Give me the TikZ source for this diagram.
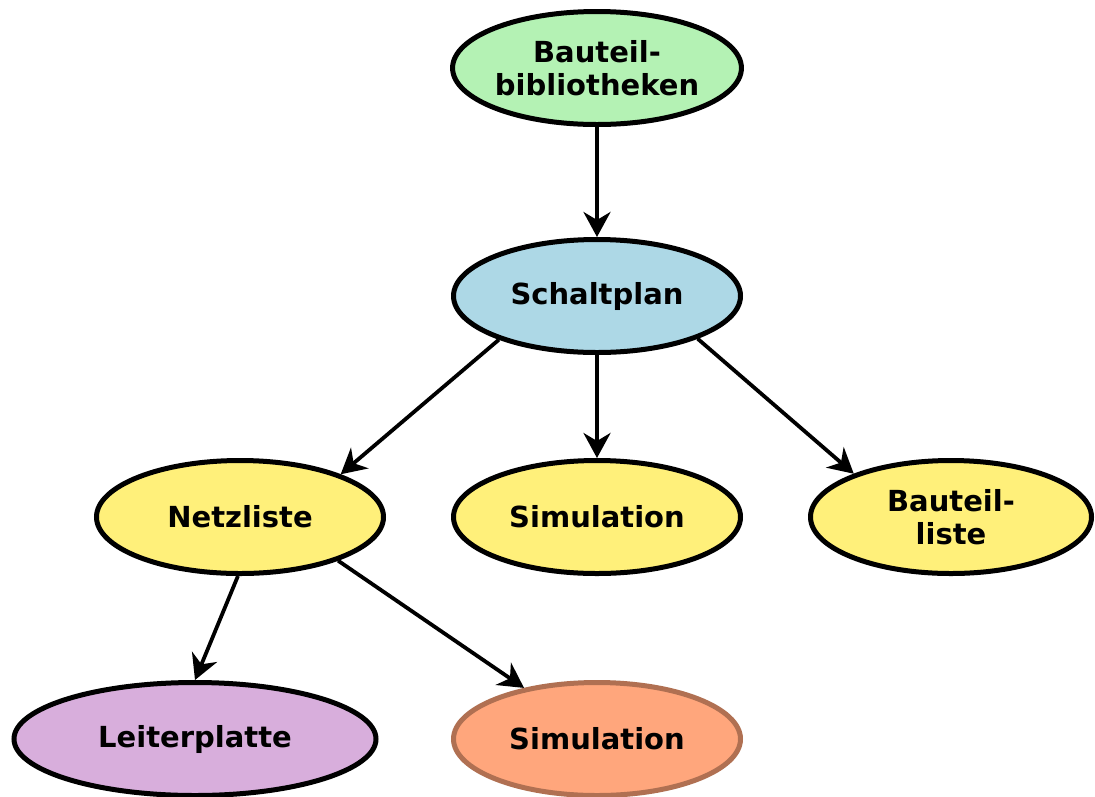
\documentclass[tikz,border=0pt]{standalone}
\usepackage{fontspec}
\setmainfont{DejaVu Sans}
\usetikzlibrary{shapes.geometric,arrows.meta}
\definecolor{cgreen}{RGB}{180,242,180}
\definecolor{cblue}{RGB}{173,216,230}
\definecolor{cyellow}{RGB}{255,240,122}
\definecolor{cpurple}{RGB}{216,174,220}
\definecolor{corange}{RGB}{255,166,124}
\definecolor{cbrown}{RGB}{176,112,82}
\tikzset{
  elli/.style={ellipse, draw=black, line width=5pt, inner sep=0pt,
    minimum width=287pt, minimum height=113pt, align=center,
    font=\fontsize{29}{33}\selectfont\bfseries},
  conn/.style={line width=3.8pt, -{Stealth[length=25pt,width=27pt,inset=8pt]}}
}
\begin{document}
\begin{tikzpicture}[x=1pt,y=-1pt]
\useasboundingbox (0,0) rectangle (1095,796);
\node[elli, fill=cgreen] (bib) at (597,68) {Bauteil-\\bibliotheken};
\node[elli, fill=cblue] (sch) at (597,296) {Schaltplan};
\node[elli, fill=cyellow] (net) at (240,517) {Netzliste};
\node[elli, fill=cyellow] (sim1) at (597,517) {Simulation};
\node[elli, fill=cyellow, minimum width=281pt] (bl) at (951,517) {Bauteil-\\liste};
\node[elli, fill=cpurple, minimum width=362pt] (lp) at (195,739) {Leiterplatte};
\node[elli, fill=corange, draw=cbrown] (sim2) at (597,739) {Simulation};
\draw[conn] (bib.south) -- (sch.north);
\draw[conn] (sch.204) -- (net.23);
\draw[conn] (sch.south) -- (sim1.north);
\draw[conn] (sch.-23.5) -- (bl.156.5);
\draw[conn] (net.-92) -- (lp.90);
\draw[conn] (net.-24) -- (sim2.145);
\end{tikzpicture}
\end{document}
